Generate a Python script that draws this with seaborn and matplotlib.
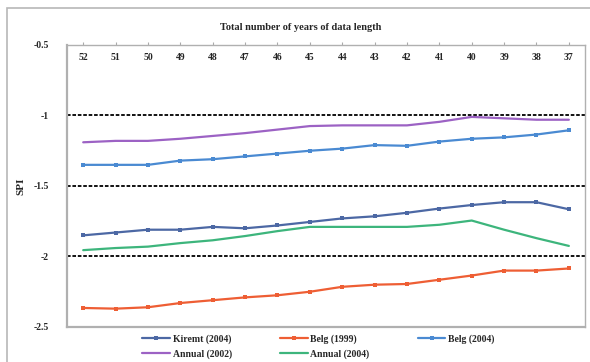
import pandas as pd
import matplotlib.pyplot as plt
import matplotlib.patches as mpatches
import seaborn as sns

# data
years = ['52', '51', '50', '49', '48', '47', '46', '45', '44', '43', '42', '41', '40', '39', '38', '37']
kiremt_2004 = [-1.85, -1.83, -1.81, -1.81, -1.79, -1.80, -1.78, -1.755, -1.73, -1.715, -1.69, -1.66, -1.635, -1.615, -1.615, -1.665]
belg_1999 = [-2.365, -2.37, -2.36, -2.33, -2.31, -2.29, -2.275, -2.25, -2.215, -2.20, -2.195, -2.165, -2.135, -2.10, -2.10, -2.085]
belg_2004 = [-1.35, -1.35, -1.35, -1.32, -1.31, -1.29, -1.27, -1.25, -1.235, -1.21, -1.215, -1.185, -1.165, -1.155, -1.135, -1.105]
annual_2002 = [-1.19, -1.18, -1.18, -1.165, -1.145, -1.125, -1.10, -1.075, -1.07, -1.07, -1.07, -1.045, -1.01, -1.02, -1.03, -1.03]
annual_2004 = [-1.955, -1.94, -1.93, -1.905, -1.885, -1.855, -1.82, -1.79, -1.79, -1.79, -1.79, -1.775, -1.745, -1.81, -1.87, -1.925]

series = {
    'Kiremt (2004)': kiremt_2004,
    'Belg (1999)': belg_1999,
    'Belg (2004)': belg_2004,
    'Annual (2002)': annual_2002,
    'Annual (2004)': annual_2004,
}
colors = ['#4C68A4', '#EE5E34', '#4A8AD2', '#9C62C4', '#3DB57C']
with_marker = [True, True, True, False, False]

sns.set_style('white')
plt.rcParams['font.family'] = ['Liberation Serif', 'DejaVu Serif']
plt.rcParams['font.weight'] = 'bold'
plt.rcParams['axes.unicode_minus'] = False

fig = plt.figure(figsize=(5.9, 3.62), dpi=100)
ax = fig.add_axes([0.1136, 0.0967, 0.878, 0.779])

# reference levels
for lvl in [-1, -1.5, -2]:
    ax.axhline(lvl, color='black', lw=1.3, ls=(0, (2, 1)), zorder=1, clip_on=False)

for (name, vals), col, mk in zip(series.items(), colors, with_marker):
    d = pd.DataFrame({'Years': years, 'SPI': vals})
    sns.lineplot(data=d, x='Years', y='SPI', color=col, label=name,
                 marker='s' if mk else None, markersize=2.5, markeredgewidth=0,
                 linewidth=1.6, sort=False, ax=ax, zorder=3)

ax.set_xlim(-0.5, 15.5)
ax.set_ylim(-2.5, -0.5)
ax.set_yticks([-0.5, -1, -1.5, -2, -2.5])
ax.set_yticklabels(['-0.5', '-1', '-1.5', '-2', '-2.5'], fontsize=7, fontweight='bold')
ax.tick_params(axis='y', length=4, color='#888888', pad=9)
ax.tick_params(axis='x', top=True, bottom=False, labeltop=True, labelbottom=False,
               direction='out', length=2, color='#aaaaaa', pad=-14, labelsize=7)
for lab in ax.get_xticklabels():
    lab.set_fontweight('bold')
ax.set_xlabel('')
ax.set_ylabel('SPI', fontsize=8, fontweight='bold', labelpad=6)

for side in ['left', 'bottom', 'top', 'right']:
    ax.spines[side].set_color('#b0b0b0')
    ax.spines[side].set_linewidth(1.0)
ax.spines['left'].set_linewidth(1.6)
ax.spines['bottom'].set_linewidth(1.6)

fig.text(0.51, 0.925, 'Total number of years of data length', ha='center', va='center',
         fontsize=7.5, fontweight='bold')

# legend filled row by row: reorder for matplotlib's column-wise filling
handles, labels = ax.get_legend_handles_labels()
ax.legend_.remove()
order = [0, 3, 1, 4, 2]
fig.legend([handles[i] for i in order], [labels[i] for i in order],
           loc='lower center', bbox_to_anchor=(0.54, -0.015), ncol=3,
           frameon=False, fontsize=7, handlelength=2.8, columnspacing=5.0,
           labelspacing=0.55, handletextpad=0.3)

fig.patches.append(mpatches.Rectangle((7 / 590, -0.05), 1.2, 1.05 - 8 / 362,
                                      transform=fig.transFigure, fill=False,
                                      edgecolor='#b8b8b8', lw=1.2, figure=fig))

fig.savefig('out.png', dpi=100)
